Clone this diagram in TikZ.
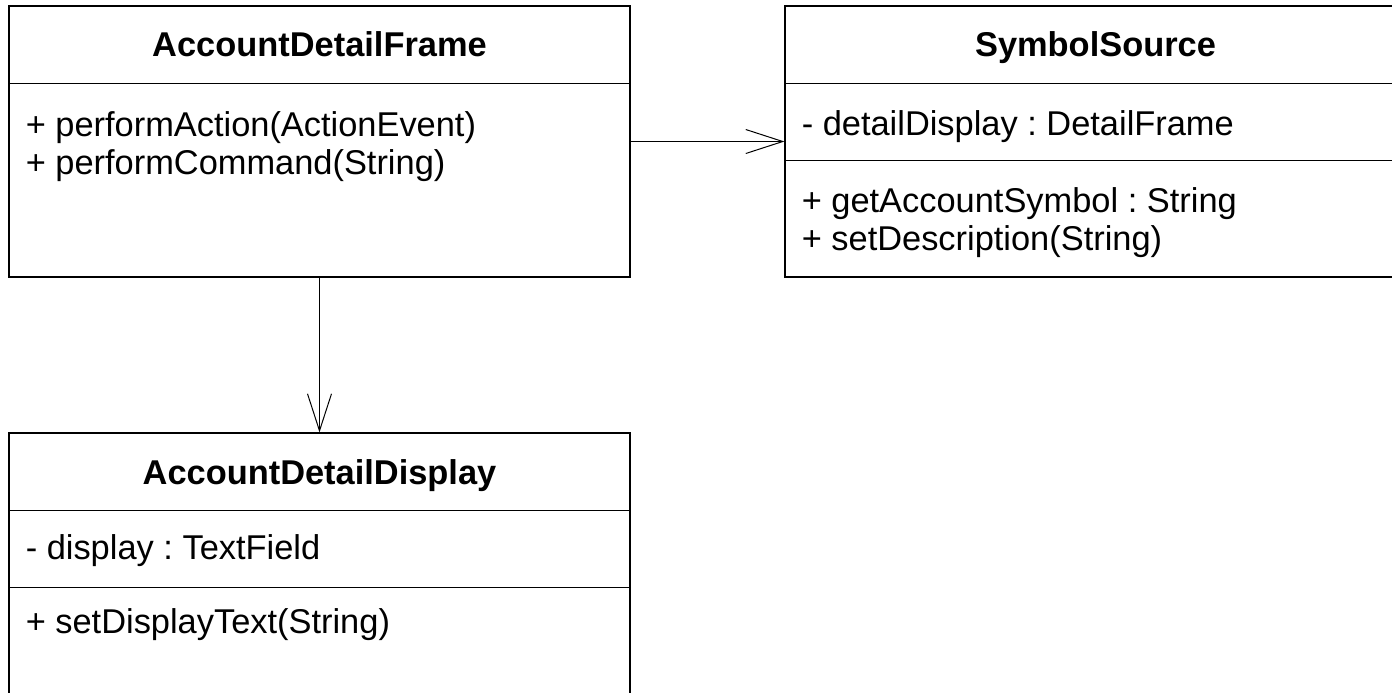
\documentclass[tikz,border=0pt]{standalone}
\usepackage{fontspec}
\setmainfont{Liberation Sans}
\frenchspacing
\usetikzlibrary{arrows.meta}

\tikzset{
	classbox/.style={draw,line width=0.6pt,minimum width=310.5pt,minimum height=135.5pt,inner sep=0pt},
	classname/.style={anchor=base,inner sep=0pt,font=\bfseries\fontsize{17.2}{19}\selectfont},
	member/.style={anchor=base west,inner sep=0pt,font=\fontsize{17.2}{19}\selectfont},
	assoc/.style={line width=0.5pt,-{Straight Barb[length=18.5pt,width=12pt,line width=0.5pt]}},
}

\begin{document}
\begin{tikzpicture}[x=0.5pt,y=-0.5pt]
					\useasboundingbox (0,0) rectangle (1392,692);

					% classes
					\node[classbox] (frame) at (319.5,141.5) {};
					\node[classbox] (source) at (1095.5,141.5) {};
					\node[classbox] (display) at (319.5,568.5) {};

					% compartments
					\foreach \cls in {frame,source,display}
						\draw[line width=0.6pt] ([yshift=-39pt]\cls.north west) -- ([yshift=-39pt]\cls.north east);
					\foreach \cls in {source,display}
						\draw[line width=0.6pt] ([yshift=-77.5pt]\cls.north west) -- ([yshift=-77.5pt]\cls.north east);

					\node[classname] (frametitle) at ([yshift=-25.5pt]frame.north) {AccountDetailFrame};
					\node[classname] (sourcetitle) at ([yshift=-25.5pt]source.north) {SymbolSource};
					\node[classname] (displaytitle) at ([yshift=-26pt]display.north) {AccountDetailDisplay};

					\foreach \txt [count=\i] in {+ performAction(ActionEvent), + performCommand(String)}
						\node[member] (frameop\i) at ([xshift=8.5pt,yshift={-65.5pt-(\i-1)*19pt}]frame.north west) {\txt};

					\node[member] (sourceattr) at ([xshift=8.5pt,yshift=-65pt]source.north west) {- detailDisplay : DetailFrame};
					\foreach \txt [count=\i] in {+ getAccountSymbol : String, + setDescription(String)}
						\node[member] (sourceop\i) at ([xshift=8.5pt,yshift={-103.5pt-(\i-1)*19pt}]source.north west) {\txt};

					\node[member] (displayattr) at ([xshift=8.5pt,yshift=-63.5pt]display.north west) {- display : TextField};
					\node[member] (displayop1) at ([xshift=8.5pt,yshift=-100.5pt]display.north west) {+ setDisplayText(String)};

					% associations
					\draw[assoc] (frame) -- (source);
					\draw[assoc] (frame) -- (display);
				\end{tikzpicture}
\end{document}
